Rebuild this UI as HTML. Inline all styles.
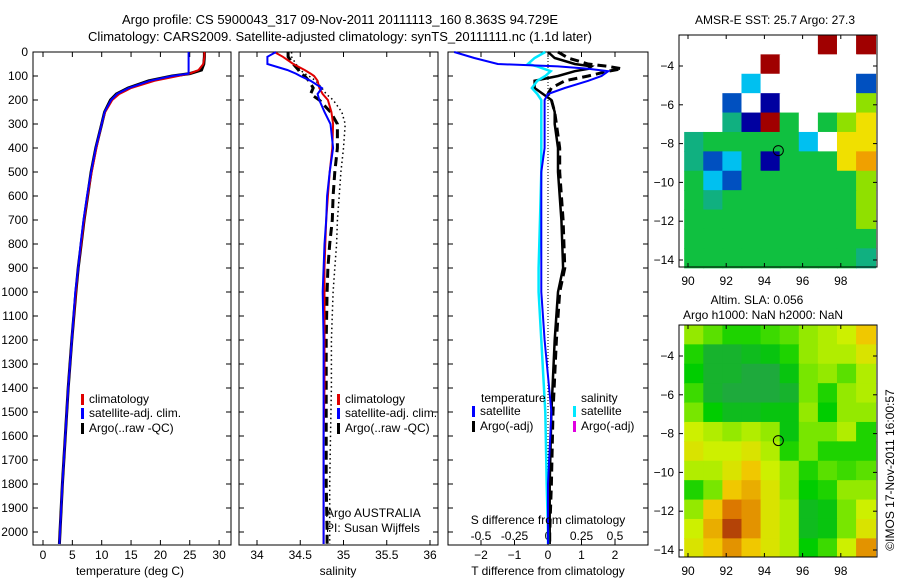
<!DOCTYPE html>
<html><head><meta charset="utf-8"><style>
body{margin:0;background:#fff}
svg{display:block;font-family:"Liberation Sans",sans-serif;font-size:12px}
</style></head><body>
<svg id="fig" width="900" height="580" xmlns="http://www.w3.org/2000/svg">
<text x="340" y="24" text-anchor="middle" font-size="13">Argo profile: CS 5900043_317 09-Nov-2011 20111113_160 8.363S 94.729E</text>
<text x="340" y="41" text-anchor="middle" font-size="13">Climatology: CARS2009. Satellite-adjusted climatology: synTS_20111111.nc (1.1d later)</text>
<g id="p1"></g>
<g id="p2"></g>
<g id="p3"></g>
<g id="m1"></g>
<g id="m2"></g>
<text x="775" y="24" text-anchor="middle">AMSR-E SST: 25.7  Argo: 27.3</text>
<text x="757" y="304" text-anchor="middle">Altim. SLA: 0.056</text>
<text x="763" y="319" text-anchor="middle">Argo h1000: NaN h2000: NaN</text>
<text transform="translate(894,470) rotate(-90)" text-anchor="middle">©IMOS 17-Nov-2011 16:00:57</text>
</svg>
<script>
// ---- data ----
const depthTicks=[0,100,200,300,400,500,600,700,800,900,1000,1100,1200,1300,1400,1500,1600,1700,1800,1900,2000];
const tempTicks=[0,5,10,15,20,25,30];
const salTicks=[34,34.5,35,35.5,36];
const salTickLabels=["34","34.5","35","35.5","36"];
const tdiffTicks=[-2,-1,0,1,2];
const sdiffTicks=[-0.5,-0.25,0,0.25,0.5];
const sdiffTickLabels=["-0.5","-0.25","0","0.25","0.5"];
const profDepth=[0,20,50,75,90,100,120,150,175,200,250,300,400,500,600,700,800,900,1000,1200,1400,1600,1800,2000,2050];
const tempArgo=[27.5,27.5,27.4,27,25,22,18,14.5,12.5,11.5,10.5,10,9,8.2,7.6,7,6.5,6,5.6,4.9,4.3,3.8,3.3,2.9,2.8];
const tempClim=[27.5,27.5,27.3,26.5,25,23,19,15,13,11.8,10.6,10,9.1,8.3,7.6,7,6.5,6,5.6,4.9,4.3,3.8,3.3,2.9,2.8];
const tempSat=[24.8,24.8,24.8,24.8,24.8,22,18.2,14.6,12.6,11.6,10.5,10,9,8.2,7.5,6.9,6.4,6,5.5,4.9,4.3,3.8,3.3,2.9,2.8];
const salClim=[34.2,34.3,34.42,34.55,34.62,34.66,34.7,34.72,34.76,34.82,34.86,34.88,34.87,34.84,34.82,34.8,34.79,34.78,34.78,34.78,34.78,34.77,34.77,34.77,34.77];
const salSat=[34.22,34.12,34.12,34.35,34.45,34.5,34.62,34.75,34.7,34.72,34.78,34.85,34.88,34.84,34.81,34.8,34.78,34.77,34.76,34.77,34.77,34.77,34.77,34.77,34.77];
const salArgo=[34.36,34.36,34.42,34.48,34.5,34.55,34.6,34.65,34.62,34.72,34.85,34.93,34.93,34.9,34.88,34.87,34.84,34.82,34.81,34.8,34.8,34.8,34.8,34.81,34.81];
const salArgoRaw=[34.4,34.4,34.45,34.5,34.55,34.6,34.68,34.75,34.8,34.88,34.98,35.02,35,34.97,34.95,34.93,34.92,34.9,34.88,34.86,34.86,34.85,34.84,34.84,34.84];
const diffDepth=[0,25,50,60,70,80,100,120,150,175,200,250,300,400,500,700,900,1000,1200,1500,1800,2000,2050];
const tdiffSat=[-2.8,-2.2,-1.5,0.3,1.2,1.8,1.6,1.2,0.5,0,-0.1,-0.1,-0.1,-0.1,-0.2,-0.2,-0.2,-0.2,-0.1,0.1,0,0,0];
const tdiffArgo=[0,0.2,0.8,1.3,1.2,0.8,0.3,-0.4,-0.4,-0.15,0.1,0.2,0.2,0.3,0.3,0.4,0.45,0.3,0.2,0.1,0.05,0.05,0.05];
const tdiffArgoRaw=[0.3,0.6,1.2,1.8,2.2,1.8,1.2,0.5,0.1,0,0.1,0.2,0.25,0.35,0.35,0.45,0.5,0.35,0.25,0.15,0.1,0.05,0.05];
const sdiffSat=[-0.02,-0.1,-0.15,-0.08,-0.03,0.02,-0.02,-0.08,-0.12,-0.08,-0.05,-0.05,-0.05,-0.05,-0.05,-0.06,-0.07,-0.07,-0.05,-0.02,-0.01,0,0];
const slaGrid=[
[.45,.35,.25,.25,.3,.35,.45,.5,.55,.7],
[.25,.05,.05,.1,.15,.25,.45,.5,.5,.6],
[.2,.05,.05,0,0,.15,.4,.45,.35,.5],
[.3,.05,0,0,0,.05,.4,.25,.45,.5],
[.4,.2,.1,.1,.15,.15,.45,.2,.45,.45],
[.55,.5,.45,.5,.45,.15,.4,.4,.5,.25],
[.6,.55,.55,.6,.5,.25,.4,.25,.25,.25],
[.5,.5,.6,.7,.55,.45,.25,.35,.3,.35],
[.25,.4,.7,.75,.6,.45,.2,.25,.45,.45],
[.45,.7,.85,.8,.6,.5,.1,.15,.4,.55],
[.55,.75,.95,.8,.6,.5,.1,.15,.4,.6],
[.6,.7,.8,.7,.6,.5,.2,.3,.55,.8]];
const sstGrid=["wwwwwwwrwr","wwwwrwwwww","wwwcwwwwwb","wwbwnwwwwl","wwtnrgwgly","tgggggcwyy","tbcgngggyo","gcbggggggl","gtgggggggl","gggggggggl","gggggggggg","gggggggggt"];
const mapLonTicks=[90,92,94,96,98];
const mapLatTicks=[-4,-6,-8,-10,-12,-14];
const argoLon=94.73, argoLat=-8.36;
// ---- helpers ----
const NS="http://www.w3.org/2000/svg";
const TOP=52,BOT=545;
function mk(p,t,a){const e=document.createElementNS(NS,t);for(const k in a)e.setAttribute(k,a[k]);p.appendChild(e);return e;}
const Y=d=>Math.min(BOT,TOP+d*0.24);
function panel(g,x0,x1){
  const r=mk(g,'rect',{x:x0,y:TOP,width:x1-x0,height:BOT-TOP,fill:'none',stroke:'#000'});
  
  
  depthTicks.forEach(d=>{mk(g,'line',{x1:x0,x2:x0+5,y1:Y(d),y2:Y(d),stroke:'#000'});mk(g,'line',{x1:x1,x2:x1-5,y1:Y(d),y2:Y(d),stroke:'#000'});});
}
function xticks(g,x,lab,name){mk(g,'line',{x1:x,x2:x,y1:TOP,y2:TOP+5,stroke:'#000'});mk(g,'line',{x1:x,x2:x,y1:BOT,y2:BOT-5,stroke:'#000'});text(g,x,559,lab,'middle',name);}
function line(g,xs,ds,xf,col,w,dash,name){
  const pts=xs.map((v,i)=>xf(v).toFixed(1)+','+Y(ds[i]).toFixed(1)).join(' ');
  const e=mk(g,'polyline',{points:pts,fill:'none',stroke:col,'stroke-width':w});
  if(dash)e.setAttribute('stroke-dasharray',dash);
  
  
}
function legend(g,x,y,col,txt,name){
  mk(g,'rect',{x:x,y:y-9,width:3,height:11,fill:col});
  const t=mk(g,'text',{x:x+8,y:y});t.textContent=txt;
  
  
}
function text(g,x,y,s,anchor,name){const t=mk(g,'text',{x:x,y:y,'text-anchor':anchor||'middle'});t.textContent=s;return t;}
// ---- panel 1 ----
const p1=document.getElementById('p1');
const XT=v=>43+v*5.87;
panel(p1,33,231);
depthTicks.forEach(d=>text(p1,28,Y(d)+4,String(d),'end','depth-tick-label'));
tempTicks.forEach(v=>xticks(p1,XT(v),String(v),'temp-tick-label'));
line(p1,tempArgo,profDepth,XT,'#000',3,null,'argo-temp-line');
line(p1,tempClim,profDepth,XT,'#e00000',2,null,'clim-temp-line');
line(p1,tempSat,profDepth,XT,'#0000ff',2,null,'sat-temp-line');
legend(p1,81,403,'#e00000','climatology','legend-climatology');
legend(p1,81,417,'#0000ff','satellite-adj. clim.','legend-satellite');
legend(p1,81,432,'#000','Argo(..raw -QC)','legend-argo');
text(p1,130,575,'temperature (deg C)','middle','temp-axis-title');
// ---- panel 2 ----
const p2=document.getElementById('p2');
const XS=v=>257+(v-34)*86.5;
panel(p2,239,438);
salTicks.forEach((v,i)=>xticks(p2,XS(v),salTickLabels[i],'sal-tick-label'));
line(p2,salArgoRaw,profDepth,XS,'#000',1.5,'1.5 3','argo-raw-sal-line');
line(p2,salArgo,profDepth,XS,'#000',3,'9 5','argo-sal-line');
line(p2,salClim,profDepth,XS,'#e00000',2,null,'clim-sal-line');
line(p2,salSat,profDepth,XS,'#0000ff',2,null,'sat-sal-line');
legend(p2,337,403,'#e00000','climatology','legend-climatology');
legend(p2,337,417,'#0000ff','satellite-adj. clim.','legend-satellite');
legend(p2,337,432,'#000','Argo(..raw -QC)','legend-argo');
text(p2,326,517,'Argo AUSTRALIA','start','argo-australia-label');
text(p2,326,532,'PI: Susan Wijffels','start','pi-label');
text(p2,338,575,'salinity','middle','sal-axis-title');
// ---- panel 3 ----
const p3=document.getElementById('p3');
const XD=v=>548+v*33.5;
panel(p3,448,648);
mk(p3,'line',{x1:XD(0),x2:XD(0),y1:TOP,y2:BOT,stroke:'#000','stroke-dasharray':'1 2'});
tdiffTicks.forEach(v=>xticks(p3,XD(v),v<0?'\u2212'+(-v):String(v),'tdiff-tick-label'));
sdiffTicks.forEach((v,i)=>text(p3,XD(v*4),540,sdiffTickLabels[i],'middle','sdiff-tick-label'));
line(p3,tdiffArgoRaw,diffDepth,XD,'#000',3,'9 5','argo-raw-tdiff-line');
line(p3,tdiffArgo,diffDepth,XD,'#000',2.5,null,'argo-tdiff-line');
line(p3,sdiffSat.map(v=>v*4),diffDepth,XD,'#00e8ff',2.5,null,'sat-sdiff-line');
line(p3,tdiffSat,diffDepth,XD,'#0000ff',2,null,'sat-tdiff-line');
text(p3,481,402,'temperature','start','legend-temperature-heading');
legend(p3,472,415,'#0000ff','satellite','legend-temp-satellite');
legend(p3,472,430,'#000','Argo(-adj)','legend-temp-argo');
text(p3,581,402,'salinity','start','legend-salinity-heading');
legend(p3,573,415,'#00e8ff','satellite','legend-sal-satellite');
legend(p3,573,430,'#e000e0','Argo(-adj)','legend-sal-argo');
text(p3,548,524,'S difference from climatology','middle','sdiff-axis-title');
text(p3,548,575,'T difference from climatology','middle','tdiff-axis-title');
// ---- maps ----
function slaColor(v){const s=[[0,[30,170,60]],[.2,[0,205,0]],[.4,[120,230,0]],[.55,[205,240,0]],[.7,[240,200,0]],[.85,[220,120,0]],[1,[160,40,10]]];
  for(let i=1;i<s.length;i++)if(v<=s[i][0]){const a=s[i-1],b=s[i],t=(v-a[0])/(b[0]-a[0]);return 'rgb('+a[1].map((c,k)=>Math.round(c+(b[1][k]-c)*t)).join(',')+')';}return 'rgb(160,40,10)';}
const sstCol={w:'#fff',r:'#a00000',c:'#00c0f0',b:'#0050c0',n:'#0000a0',g:'#10c040',t:'#10b080',y:'#f0e000',o:'#f0a000',l:'#90e000'};
function mapAxes(g,top,lat4y){
  const LX=v=>688+(v-90)*19.1, LY=v=>lat4y+(-4-v)*19.4;
  return {LX,LY,frame(){
    mk(g,'rect',{x:679,y:top,width:198,height:232,fill:'none',stroke:'#000'});
    mapLonTicks.forEach(v=>{mk(g,'line',{x1:LX(v),x2:LX(v),y1:top,y2:top+4,stroke:'#000'});mk(g,'line',{x1:LX(v),x2:LX(v),y1:top+232,y2:top+228,stroke:'#000'});text(g,LX(v),top+250,String(v),'middle','lon-tick-label');});
    mapLatTicks.forEach(v=>{mk(g,'line',{x1:679,x2:683,y1:LY(v),y2:LY(v),stroke:'#000'});mk(g,'line',{x1:877,x2:873,y1:LY(v),y2:LY(v),stroke:'#000'});text(g,674,LY(v)+4,'\u2212'+(-v),'end','lat-tick-label');});
    const c=mk(g,'circle',{cx:LX(argoLon),cy:LY(argoLat),r:5,fill:'none',stroke:'#000'});
    
    
  }};
}
const m1=document.getElementById('m1');
const A1=mapAxes(m1,35,66);
sstGrid.forEach((row,r)=>{for(let c=0;c<10;c++){const ch=row[c]||'g';
  const x0=A1.LX(89.8+c),y0=A1.LY(-2.4-r);
  const e=mk(m1,'rect',{x:Math.max(x0,679),y:Math.max(y0,35),width:20,height:20,fill:sstCol[ch]});
  
  }});
A1.frame();
const m2=document.getElementById('m2');
const A2=mapAxes(m2,325,356);
slaGrid.forEach((row,r)=>row.forEach((v,c)=>{
  const x0=A2.LX(89.8+c),y0=A2.LY(-2.4-r);
  const e=mk(m2,'rect',{x:Math.max(x0,679),y:Math.max(y0,325),width:20,height:Math.min(20,557-Math.max(y0,325)),fill:slaColor(v)});
  
  }));
A2.frame();
</script>
</body></html>
